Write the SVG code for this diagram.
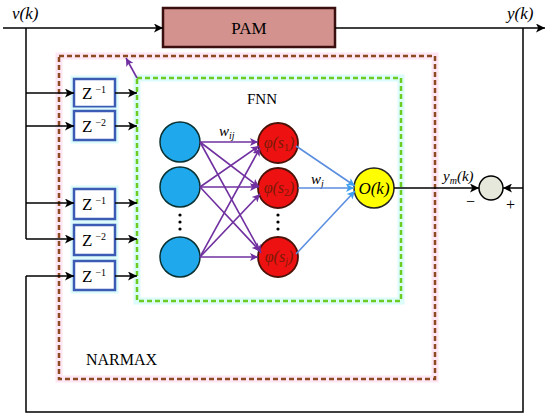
<svg xmlns="http://www.w3.org/2000/svg" width="550" height="418" viewBox="0 0 550 418" font-family="'Liberation Serif', 'DejaVu Serif', serif">
<defs>
<marker id="ab" viewBox="0 0 10 10" refX="10" refY="5" markerWidth="10" markerHeight="9" markerUnits="userSpaceOnUse" orient="auto"><path d="M0,0 L10,5 L0,10 L2.5,5 Z" fill="#000"/></marker>
<marker id="ap" viewBox="0 0 10 10" refX="10" refY="5" markerWidth="9" markerHeight="8" markerUnits="userSpaceOnUse" orient="auto"><path d="M0,0 L10,5 L0,10 L2.5,5 Z" fill="#7030a0"/></marker>
<marker id="abl" viewBox="0 0 10 10" refX="10" refY="5" markerWidth="9" markerHeight="8" markerUnits="userSpaceOnUse" orient="auto"><path d="M0,0 L10,5 L0,10 L2.5,5 Z" fill="#3fa0f0"/></marker>
</defs>
<style>
text{font-family:'Liberation Serif','Times New Roman',serif;fill:#000}
.it{font-style:italic}
.ln{stroke:#000;stroke-width:1.5;fill:none}
.arr{stroke:#000;stroke-width:1.5;fill:none;marker-end:url(#ab)}
.pu{stroke:#7030a0;stroke-width:1.6;fill:none;marker-end:url(#ap)}
.bl{stroke:#5b8ee0;stroke-width:1.6;fill:none;marker-end:url(#abl)}
.zb{fill:#fff;stroke:#3b5bb5;stroke-width:2.5}
.zg{fill:none;stroke:#dcfbfb;stroke-width:7}
.inp{fill:#1fa8ec;stroke:#0a3030;stroke-width:1.5}
.hid{fill:#ee1111;stroke:#4a1208;stroke-width:1.8}
.ht{font-style:italic;fill:#7a1a08}
</style>
<rect width="550" height="418" fill="#fff"/>
<!-- glows -->
<rect x="59" y="56" width="376" height="323" fill="none" stroke="#ffe6f4" stroke-width="7"/>
<rect x="137" y="78" width="264" height="223" fill="none" stroke="#dcfbfb" stroke-width="7"/>
<!-- NARMAX frame -->
<g id="narmax">
<rect x="59" y="56" width="376" height="323" fill="none" stroke="#8b4a20" stroke-width="2.5" stroke-dasharray="5,3"/>
<text x="86" y="365" font-size="16">NARMAX</text>
</g>
<!-- FNN frame -->
<g id="fnn">
<rect x="137" y="78" width="264" height="223" fill="none" stroke="#6ccc22" stroke-width="2.5" stroke-dasharray="5,3"/>
<text x="247" y="104" font-size="15">FNN</text>
</g>
<!-- PAM -->
<g id="pam">
<rect x="163" y="8" width="172" height="39" fill="#d4928e" stroke="#3a0f0f" stroke-width="2.5"/>
<text x="249" y="34" font-size="17" text-anchor="middle">PAM</text>
</g>
<!-- Z blocks -->
<g id="z1"><rect class="zg" x="74" y="79" width="41" height="28"/><rect class="zb" x="74" y="79" width="41" height="28"/><text font-size="17" x="82" y="99">Z<tspan font-size="10" dx="3" dy="-6">−1</tspan></text></g>
<g id="z2"><rect class="zg" x="74" y="111" width="41" height="29"/><rect class="zb" x="74" y="111" width="41" height="29"/><text font-size="17" x="82" y="132">Z<tspan font-size="10" dx="3" dy="-6">−2</tspan></text></g>
<g id="z3"><rect class="zg" x="74" y="189" width="41" height="30"/><rect class="zb" x="74" y="189" width="41" height="30"/><text font-size="17" x="82" y="210">Z<tspan font-size="10" dx="3" dy="-6">−1</tspan></text></g>
<g id="z4"><rect class="zg" x="74" y="225" width="41" height="30"/><rect class="zb" x="74" y="225" width="41" height="30"/><text font-size="17" x="82" y="246">Z<tspan font-size="10" dx="3" dy="-6">−2</tspan></text></g>
<g id="z5"><rect class="zg" x="74" y="261" width="41" height="29"/><rect class="zb" x="74" y="261" width="41" height="29"/><text font-size="17" x="82" y="282">Z<tspan font-size="10" dx="3" dy="-6">−1</tspan></text></g>
<!-- input neurons -->
<g id="in1"><circle class="inp" cx="180" cy="142" r="20"/></g>
<g id="in2"><circle class="inp" cx="180" cy="187" r="20"/></g>
<g id="in3"><circle class="inp" cx="180" cy="257" r="20"/></g>
<g fill="#000"><circle cx="180" cy="215" r="1.6"/><circle cx="180" cy="222" r="1.6"/><circle cx="180" cy="229" r="1.6"/></g>
<!-- hidden neurons -->
<g id="h1"><circle class="hid" cx="278" cy="143" r="20"/><text class="ht" font-size="16" x="279" y="148" text-anchor="middle">φ(s<tspan font-size="10" font-style="normal" dy="3">1</tspan><tspan dy="-3">)</tspan></text></g>
<g id="h2"><circle class="hid" cx="278" cy="188" r="20"/><text class="ht" font-size="16" x="279" y="193" text-anchor="middle">φ(s<tspan font-size="10" font-style="normal" dy="3">2</tspan><tspan dy="-3">)</tspan></text></g>
<g id="h3"><circle class="hid" cx="278" cy="257" r="20"/><text class="ht" font-size="16" x="279" y="262" text-anchor="middle">φ(s<tspan font-size="10" dy="3">j</tspan><tspan dy="-3">)</tspan></text></g>
<g fill="#000"><circle cx="278" cy="215" r="1.6"/><circle cx="278" cy="222" r="1.6"/><circle cx="278" cy="229" r="1.6"/></g>
<!-- output neuron -->
<g id="out"><circle cx="374" cy="188" r="20" fill="#ffff00" stroke="#222" stroke-width="1.5"/><text x="374" y="194" font-size="17" class="it" text-anchor="middle">O(k)</text></g>
<!-- summing junction -->
<g id="sum"><circle cx="491" cy="188" r="12" fill="#e6e8dc" stroke="#000" stroke-width="1.5"/></g>
<!-- labels -->
<text x="12" y="19" font-size="17" class="it">v(k)</text>
<text x="507" y="19" font-size="17" class="it">y(k)</text>
<text x="219" y="136" font-size="15" class="it">w<tspan font-size="10" dy="3">ij</tspan></text>
<text x="311" y="184" font-size="15" class="it">w<tspan font-size="10" dy="3">j</tspan></text>
<text x="443" y="181" font-size="15" class="it">y<tspan font-size="10" dy="3">m</tspan><tspan dy="-3">(k)</tspan></text>
<text x="466" y="207" font-size="16">−</text>
<text x="506" y="210" font-size="16">+</text>
<!-- connectors -->
<g id="connectors">
<path class="arr" d="M3,28 H163"/>
<path class="arr" d="M335,28 H545"/>
<path class="ln" d="M26,28 V239"/>
<path class="arr" d="M26,93 H74"/>
<path class="arr" d="M26,126 H74"/>
<path class="arr" d="M26,203 H74"/>
<path class="arr" d="M26,239 H74"/>
<path class="ln" d="M523,28 V412 H26 V276"/>
<path class="arr" d="M26,276 H74"/>
<path class="arr" d="M115,93 H137"/>
<path class="arr" d="M115,126 H137"/>
<path class="arr" d="M115,203 H137"/>
<path class="arr" d="M115,239 H137"/>
<path class="arr" d="M115,276 H137"/>
<path class="pu" d="M137,78 L126,58"/>
<path class="pu" d="M200,142 L258,142"/>
<path class="pu" d="M200,142 L259,187"/>
<path class="pu" d="M200,142 L261,253"/>
<path class="pu" d="M200,187 L259,146"/>
<path class="pu" d="M200,187 L258,187"/>
<path class="pu" d="M200,187 L260,251"/>
<path class="pu" d="M200,257 L260,148"/>
<path class="pu" d="M200,257 L260,194"/>
<path class="pu" d="M200,257 L258,257"/>
<path class="bl" d="M296,146 L355,186"/>
<path class="bl" d="M298,188 L354,188"/>
<path class="bl" d="M296,254 L355,191"/>
<path class="arr" d="M394,188 H479"/>
<path class="arr" d="M523,188 H503"/>
</g>
</svg>
